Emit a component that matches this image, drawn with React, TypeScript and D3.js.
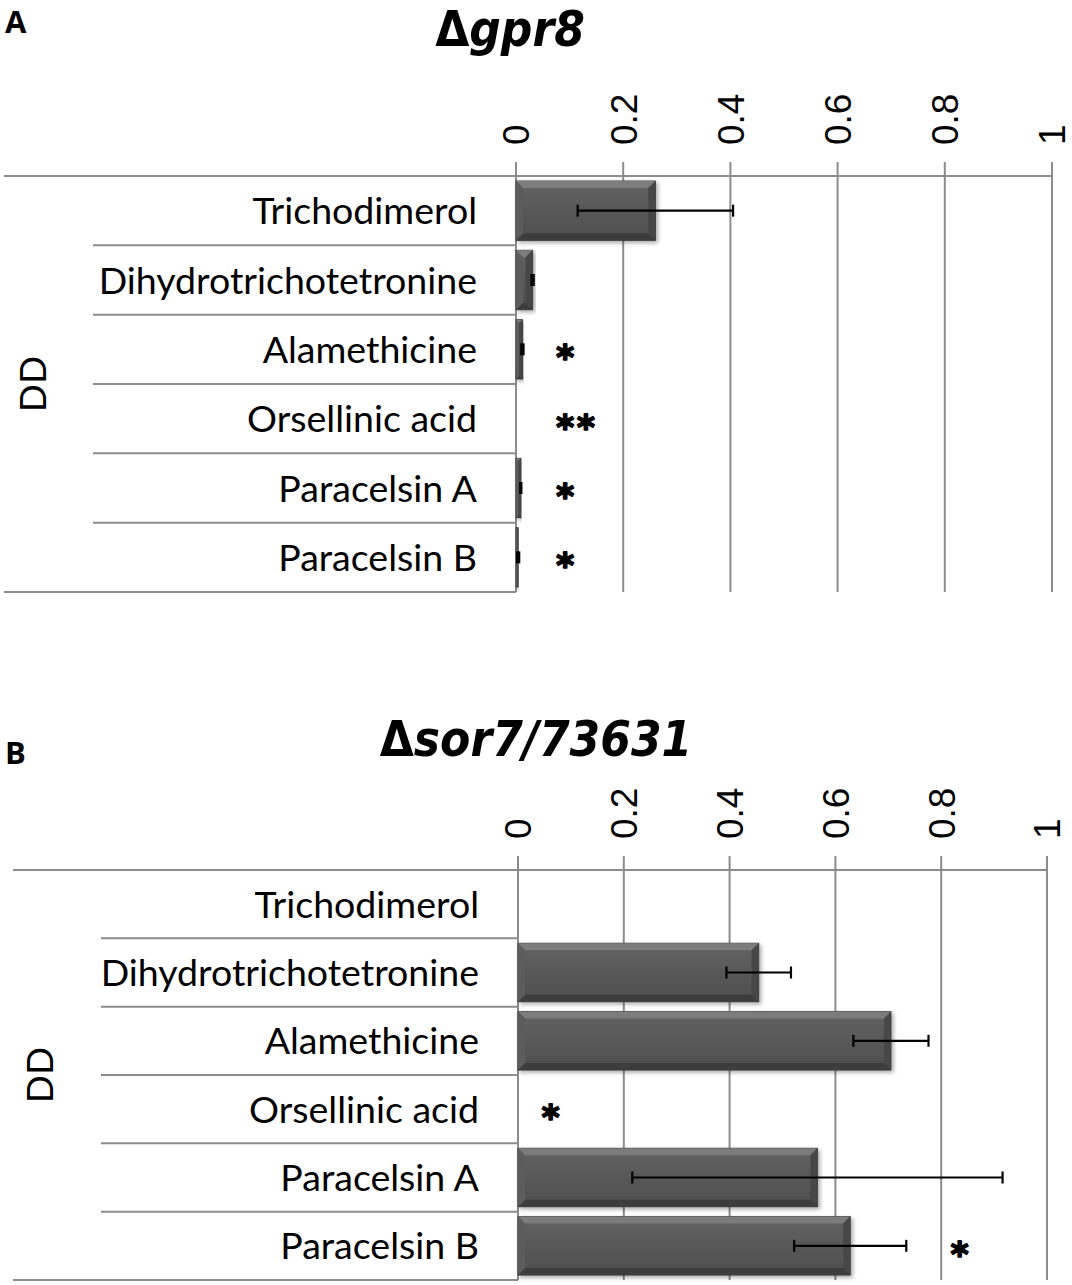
import React, { useEffect } from 'react';
import * as d3 from 'd3';

// compounds on the y axis (same order in both panels)
const compounds = [
  'Trichodimerol',
  'Dihydrotrichotetronine',
  'Alamethicine',
  'Orsellinic acid',
  'Paracelsin A',
  'Paracelsin B',
];
const xTicks = [0, 0.2, 0.4, 0.6, 0.8, 1];
const xTickLabels = ['0', '0.2', '0.4', '0.6', '0.8', '1'];

// panel A: delta gpr8
const gprValues = [0.26, 0.031, 0.012, 0, 0.009, 0.004];
const gprErrors = [0.145, 0.002, 0.002, 0, 0.001, 0.002];
const gprMarks = ['', '', '*', '**', '*', '*'];
const gprMarkAt = [0, 0, 0.075, 0.075, 0.075, 0.075];

// panel B: delta sor7/73631
const sorValues = [0, 0.455, 0.705, 0, 0.566, 0.628];
const sorErrors = [0, 0.061, 0.071, 0, 0.35, 0.106];
const sorMarks = ['', '', '', '*', '', '*'];
const sorMarkAt = [0, 0, 0, 0.045, 0, 0.818];

const GRID = '#8c8c8c';
const LABEL_FONT = 'Lato, "Open Sans", sans-serif';
const TITLE_FONT = '"DejaVu Sans Condensed", "DejaVu Sans", sans-serif';

interface PanelProps {
  id: string;
  letter: string;
  title: string;
  values: number[];
  errors: number[];
  marks: string[];
  markAt: number[];
  x0: number;
  x1: number;
  top: number;
  bottom: number;
  lineLeft: number;
  sepLeft: number;
  labelRight: number;
  ddX: number;
  titleX: number;
  titleY: number;
  letterY: number;
}

const Bar: React.FC<{ x0: number; x1: number; y0: number; y1: number; grad: string; shadow: string }> = ({
  x0, x1, y0, y1, grad, shadow,
}) => {
  if (x1 - x0 < 0.5) return null;
  const d = Math.min(7, (x1 - x0) / 2, (y1 - y0) / 2);
  const pts = (p: number[][]) => p.map((q) => q.join(',')).join(' ');
  return (
    <g filter={`url(#${shadow})`}>
      <rect x={x0} y={y0} width={x1 - x0} height={y1 - y0} fill={`url(#${grad})`} stroke="#3d3d3d" strokeWidth={1} />
      <polygon points={pts([[x0, y0], [x1, y0], [x1 - d, y0 + d], [x0 + d, y0 + d]])} fill="#7c7c7c" />
      <polygon points={pts([[x0, y1], [x1, y1], [x1 - d, y1 - d], [x0 + d, y1 - d]])} fill="#3e3e3e" />
      <polygon points={pts([[x0, y0], [x0 + d, y0 + d], [x0 + d, y1 - d], [x0, y1]])} fill="#5c5c5c" />
      <polygon points={pts([[x1, y0], [x1 - d, y0 + d], [x1 - d, y1 - d], [x1, y1]])} fill="#464646" />
    </g>
  );
};

const Panel: React.FC<PanelProps> = (p) => {
  const x = d3.scaleLinear().domain([0, 1]).range([p.x0, p.x1]);
  const rows = d3.scaleBand<string>().domain(compounds).range([p.top, p.bottom]).padding(0);
  const bars = d3.scaleBand<string>().domain(compounds).range([p.top, p.bottom])
    .paddingInner(0.145).paddingOuter(0.0725);
  const grad = `grad-${p.id}`;
  const shadow = `shadow-${p.id}`;
  const mid = (p.top + p.bottom) / 2;

  return (
    <g>
      <defs>
        <linearGradient id={grad} x1="0" y1="0" x2="0" y2="1">
          <stop offset="0" stopColor="#626262" />
          <stop offset="1" stopColor="#4e4e4e" />
        </linearGradient>
        <filter id={shadow} x="-10%" y="-20%" width="130%" height="150%">
          <feDropShadow dx="2" dy="2" stdDeviation="2" floodColor="#000" floodOpacity="0.35" />
        </filter>
      </defs>

      {/* panel letter and title */}
      <text x={5} y={p.letterY} fontFamily='"Open Sans", sans-serif' fontWeight={700} fontSize={31}>
        {p.letter}
      </text>
      <text x={p.titleX} y={p.titleY} textAnchor="middle" fontFamily={TITLE_FONT} fontStretch="condensed"
        fontWeight={700} fontSize={49}>
        <tspan>Δ</tspan>
        <tspan fontStyle="italic">{p.title}</tspan>
      </text>

      {/* vertical gridlines and tick labels */}
      {xTicks.map((t, i) => (
        <g key={t}>
          <line x1={x(t)} x2={x(t)} y1={p.top - 14} y2={p.bottom} stroke={GRID} strokeWidth={2} />
          <text transform={`translate(${x(t)},${p.top - 31}) rotate(-90)`} dy="0.36em"
            fontFamily='"Liberation Sans", Arial, sans-serif' fontSize={37} fill="#000">
            {xTickLabels[i]}
          </text>
        </g>
      ))}

      {/* category frame */}
      <line x1={p.lineLeft} x2={p.x1} y1={p.top} y2={p.top} stroke={GRID} strokeWidth={2} />
      <line x1={p.lineLeft} x2={p.x0} y1={p.bottom} y2={p.bottom} stroke={GRID} strokeWidth={2} />
      {compounds.slice(1).map((c) => (
        <line key={c} x1={p.sepLeft} x2={p.x0} y1={rows(c)!} y2={rows(c)!} stroke={GRID} strokeWidth={2} />
      ))}

      {/* category labels */}
      {compounds.map((c) => (
        <text key={c} x={p.labelRight} y={rows(c)! + rows.bandwidth() / 2} dy="0.36em" textAnchor="end"
          fontFamily={LABEL_FONT} fontSize={37.5} fill="#000">
          {c}
        </text>
      ))}
      <text transform={`translate(${p.ddX},${mid}) rotate(-90)`} dy="0.36em" textAnchor="middle"
        fontFamily={LABEL_FONT} fontSize={37} fill="#000">
        DD
      </text>

      {/* bars */}
      {compounds.map((c, i) => (
        <Bar key={c} x0={x(0)} x1={x(p.values[i])} y0={bars(c)!} y1={bars(c)! + bars.bandwidth()}
          grad={grad} shadow={shadow} />
      ))}

      {/* error bars */}
      {compounds.map((c, i) => {
        if (p.errors[i] <= 0) return null;
        const cy = bars(c)! + bars.bandwidth() / 2;
        const lo = x(p.values[i] - p.errors[i]);
        const hi = x(p.values[i] + p.errors[i]);
        return (
          <g key={c} stroke="#000" strokeWidth={2.2}>
            <line x1={lo} x2={hi} y1={cy} y2={cy} />
            <line x1={lo} x2={lo} y1={cy - 6} y2={cy + 6} />
            <line x1={hi} x2={hi} y1={cy - 6} y2={cy + 6} />
          </g>
        );
      })}

      {/* significance marks */}
      {compounds.map((c, i) =>
        p.marks[i] ? (
          <text key={c} x={x(p.markAt[i])} y={rows(c)! + rows.bandwidth() / 2 + 20}
            fontFamily='"DejaVu Sans", sans-serif' fontWeight={700} fontSize={34} letterSpacing={3}
            fill="#000" stroke="#000" strokeWidth={1.8} strokeLinejoin="round">
            {p.marks[i]}
          </text>
        ) : null,
      )}
    </g>
  );
};

const App: React.FC = () => {
  useEffect(() => {
    document.body.style.margin = '0';
  }, []);

  return (
    <svg width={1072} height={1285} style={{ display: 'block', background: '#fff' }}>
      <Panel id="a" letter="A" title="gpr8" values={gprValues} errors={gprErrors} marks={gprMarks}
        markAt={gprMarkAt} x0={516} x1={1052} top={176} bottom={592} lineLeft={4} sepLeft={93}
        labelRight={477} ddX={33} titleX={510} titleY={46} letterY={33} />
      <Panel id="b" letter="B" title="sor7/73631" values={sorValues} errors={sorErrors} marks={sorMarks}
        markAt={sorMarkAt} x0={518} x1={1047} top={870} bottom={1280} lineLeft={13} sepLeft={101}
        labelRight={479} ddX={40} titleX={536} titleY={756} letterY={764} />
    </svg>
  );
};

export default App;
